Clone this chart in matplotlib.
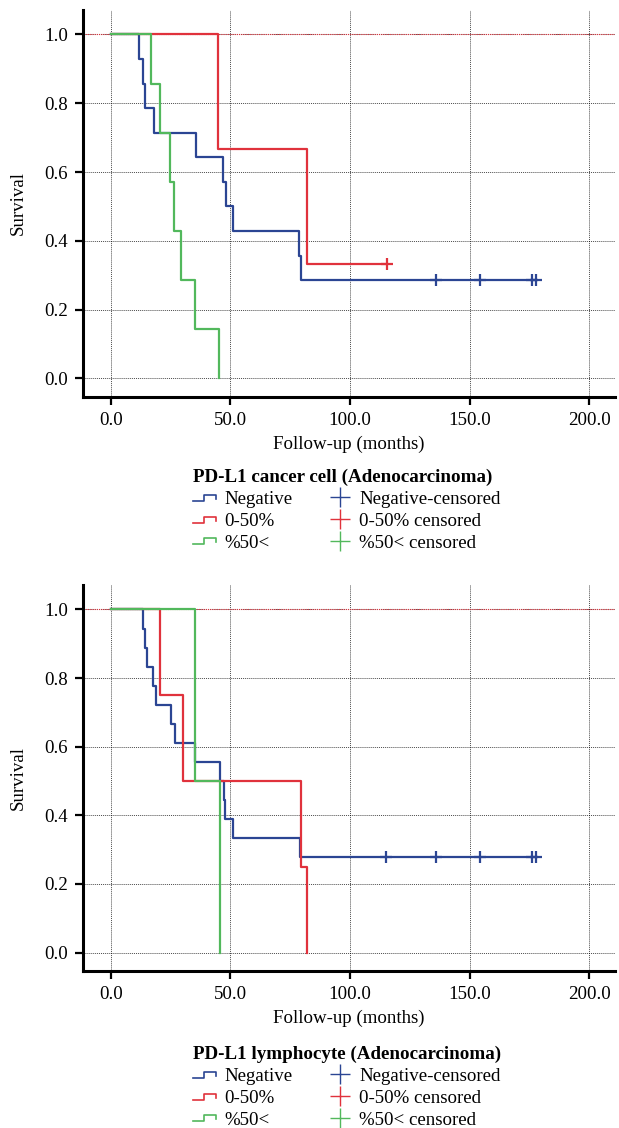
import numpy as np
import matplotlib
matplotlib.use("Agg")
import matplotlib.pyplot as plt
from matplotlib.lines import Line2D
from matplotlib.legend_handler import HandlerBase

plt.rcParams['font.family'] = ['Liberation Serif', 'DejaVu Serif']
plt.rcParams['font.size'] = 13.6

BLUE = "#2b4593"
RED = "#e0323c"
GREEN = "#52b85c"

# ---- data: top panel (cancer cell) ----
cc_neg_t = [0, 12.0, 13.5, 14.4, 18.2, 35.6, 46.8, 48.2, 51.0, 78.5, 79.6, 177.5]
cc_neg_s = [1.0, 0.929, 0.857, 0.786, 0.714, 0.643, 0.571, 0.500, 0.429, 0.357, 0.286, 0.286]
cc_neg_cens = [135.7, 154.2, 176.1, 177.5]
cc_low_t = [0, 44.9, 81.9, 115.4]
cc_low_s = [1.0, 0.667, 0.333, 0.333]
cc_low_cens = [115.4]
cc_high_t = [0, 17.0, 20.7, 24.9, 26.5, 29.4, 35.3, 45.3]
cc_high_s = [1.0, 0.857, 0.714, 0.571, 0.429, 0.286, 0.143, 0.0]
cc_high_cens = []

# ---- data: bottom panel (lymphocyte) ----
ly_neg_t = [0, 13.3, 14.4, 15.0, 17.6, 18.75, 25.0, 26.8, 35.4, 45.5, 47.2, 47.9, 51.25, 79.2, 177.5]
ly_neg_s = [1.0, 0.944, 0.889, 0.833, 0.778, 0.722, 0.667, 0.611, 0.556, 0.500, 0.444, 0.389, 0.333, 0.278, 0.278]
ly_neg_cens = [115.0, 135.7, 154.2, 176.1, 177.5]
ly_low_t = [0, 20.4, 30.0, 79.3, 82.2]
ly_low_s = [1.0, 0.75, 0.5, 0.25, 0.0]
ly_low_cens = []
ly_high_t = [0, 35.4, 45.5]
ly_high_s = [1.0, 0.5, 0.0]
ly_high_cens = []

x_ticks = [0, 50, 100, 150, 200]
y_ticks = [0.0, 0.2, 0.4, 0.6, 0.8, 1.0]
group_labels = ["Negative", "0-50%", "%50<"]
censor_labels = ["Negative-censored", "0-50% censored", "%50< censored"]


class StepHandler(HandlerBase):
    '''Legend key drawn as a small step.'''
    def create_artists(self, legend, orig_handle, xdescent, ydescent,
                       width, height, fontsize, trans):
        lo = -ydescent + height * 0.25
        hi = -ydescent + height * 0.7
        x0 = -xdescent
        xs = [x0, x0 + width * 0.45, x0 + width * 0.45, x0 + width * 0.95, x0 + width * 0.95]
        ys = [lo, lo, hi, hi, hi - height * 0.3]
        line = Line2D(xs, ys, color=orig_handle.get_color(), lw=1.2, transform=trans)
        return [line]


def km_panel(ax, series):
    for t, s, cens, col in series:
        ax.step(t, s, where="post", color=col, lw=1.6, zorder=3)
        if cens:
            cs = [s[-1]] * len(cens)
            ax.plot(cens, cs, ls="none", marker="+", ms=9, mew=1.6, color=col, zorder=4)
    ax.set_xlim(-11.6, 210.7)
    ax.set_ylim(-0.053, 1.071)
    ax.set_xticks(x_ticks)
    ax.set_xticklabels([f"{v:.1f}" for v in x_ticks])
    ax.set_yticks(y_ticks)
    ax.set_yticklabels([f"{v:.1f}" for v in y_ticks])
    ax.grid(True, ls=(0, (1, 1)), color="black", lw=0.7, alpha=0.7)
    ax.axhline(1.0, color=RED, ls=(0, (1, 1)), lw=0.8, zorder=2)
    for sp in ["top", "right"]:
        ax.spines[sp].set_visible(False)
    ax.spines["left"].set_linewidth(2.2)
    ax.spines["bottom"].set_linewidth(2.2)
    ax.tick_params(direction="out", length=6, width=1.6, labelsize=13.6, pad=5)
    ax.set_xlabel("Follow-up (months)", fontsize=13.6, labelpad=5)
    ax.set_ylabel("Survival", fontsize=13.6, labelpad=12)


def add_legend(fig, title, anchor):
    handles = [Line2D([], [], color=c) for c in (BLUE, RED, GREEN)]
    handles += [Line2D([], [], ls="none", marker="+", ms=15, mew=1.0, color=c)
                for c in (BLUE, RED, GREEN)]
    hmap = {h: StepHandler() for h in handles[:3]}
    leg = fig.legend(handles, group_labels + censor_labels, ncol=2, title=title,
                     loc="upper left", bbox_to_anchor=anchor, frameon=False,
                     alignment="left", borderpad=0, borderaxespad=0,
                     handlelength=1.3, handletextpad=0.35, columnspacing=1.9,
                     labelspacing=0.24, handler_map=hmap, fontsize=13.6,
                     title_fontproperties={"weight": "bold", "size": 13.7})
    return leg


fig = plt.figure(figsize=(6.19, 11.28), dpi=100)
ax1 = fig.add_axes([0.1341, 0.6483, 0.8595, 0.3428])
ax2 = fig.add_axes([0.1341, 0.1394, 0.8595, 0.3419])

km_panel(ax1, [(cc_neg_t, cc_neg_s, cc_neg_cens, BLUE),
               (cc_low_t, cc_low_s, cc_low_cens, RED),
               (cc_high_t, cc_high_s, cc_high_cens, GREEN)])
km_panel(ax2, [(ly_neg_t, ly_neg_s, ly_neg_cens, BLUE),
               (ly_low_t, ly_low_s, ly_low_cens, RED),
               (ly_high_t, ly_high_s, ly_high_cens, GREEN)])

add_legend(fig, "PD-L1 cancer cell (Adenocarcinoma)", (193 / 619, 1 - 469 / 1128))
add_legend(fig, "PD-L1 lymphocyte (Adenocarcinoma)", (193 / 619, 1 - 1046 / 1128))

fig.savefig("out.png", dpi=100)
